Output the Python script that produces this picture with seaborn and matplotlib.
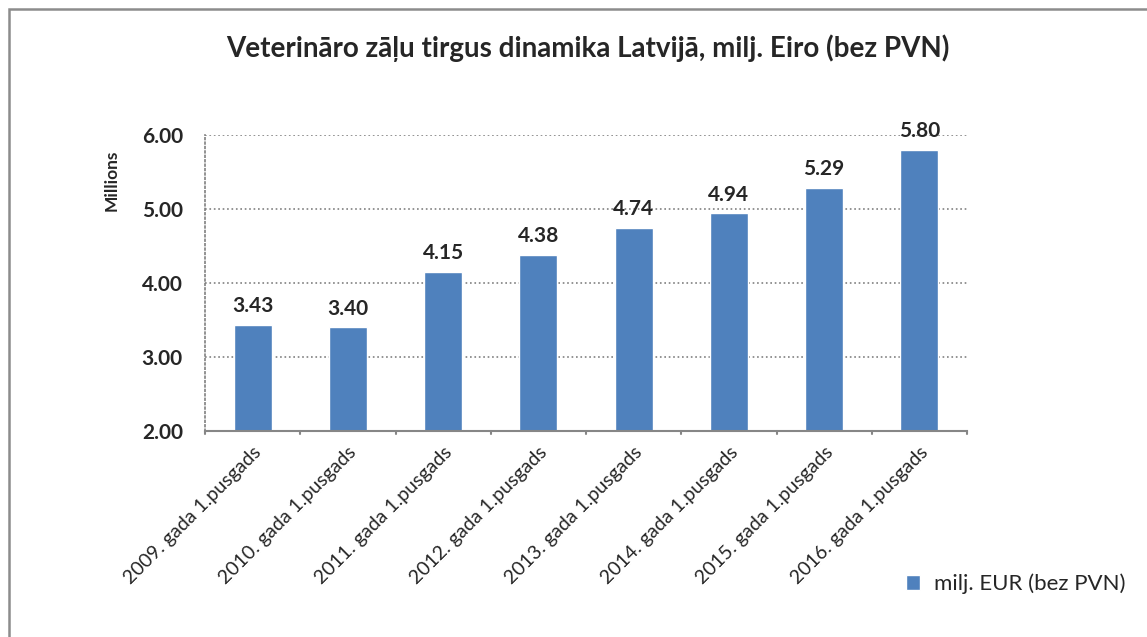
import pandas as pd
import matplotlib.pyplot as plt
import seaborn as sns
from matplotlib.patches import Rectangle

# Data
periods = ["2009. gada 1.pusgads", "2010. gada 1.pusgads", "2011. gada 1.pusgads",
           "2012. gada 1.pusgads", "2013. gada 1.pusgads", "2014. gada 1.pusgads",
           "2015. gada 1.pusgads", "2016. gada 1.pusgads"]
values = [3.43, 3.40, 4.15, 4.38, 4.74, 4.94, 5.29, 5.80]
y_ticks = [2.0, 3.0, 4.0, 5.0, 6.0]
series_name = "milj. EUR (bez PVN)"
title = "Veterināro zāļu tirgus dinamika Latvijā, milj. Eiro (bez PVN)"

sns.set_style("white")
plt.rcParams['font.family'] = ['Lato', 'DejaVu Sans']

df = pd.DataFrame({'period': periods, 'value': values})
bar_color = '#4F81BD'

fig = plt.figure(figsize=(11.47, 6.37), dpi=100)
ax = fig.add_axes([205 / 1147, 1 - 431 / 637, (967 - 205) / 1147, (431 - 135) / 637])

sns.barplot(data=df, x='period', y='value', color=bar_color, width=0.4,
            saturation=1, ax=ax, label=series_name)

ax.set_ylim(2, 6)
ax.set_xlim(-0.5, len(periods) - 0.5)
ax.set_yticks(y_ticks)
ax.set_yticklabels([f"{t:.2f}" for t in y_ticks], fontsize=15, fontweight='bold')
ax.tick_params(axis='y', length=0, pad=16)

# category boundary ticks on the x axis
ax.set_xticks(range(len(periods)))
ax.set_xticklabels(periods, rotation=45, ha='right', rotation_mode='anchor', fontsize=14)
ax.tick_params(axis='x', length=0, pad=9)
for b in [i - 0.5 for i in range(len(periods) + 1)]:
    ax.plot([b, b], [2, 1.96], color='#868686', lw=1.5, clip_on=False)

ax.grid(axis='y', linestyle=':', color='#808080', lw=1.2)
ax.set_axisbelow(True)
for s in ['top', 'right']:
    ax.spines[s].set_visible(False)
ax.spines['left'].set_linestyle(':')
ax.spines['left'].set_color('#808080')
ax.spines['left'].set_linewidth(1.2)
ax.spines['bottom'].set_color('#868686')
ax.spines['bottom'].set_linewidth(1.5)

ax.set_xlabel("")
ax.set_ylabel("Millions", fontsize=12.5, fontweight='bold')
ax.yaxis.set_label_coords(-0.112, 0.848)

for i, v in enumerate(values):
    ax.text(i, v + 0.12, f"{v:.2f}", ha='center', va='bottom', fontsize=15,
            fontweight='bold', clip_on=False)

fig.text(588 / 1147, 1 - 48 / 637, title, ha='center', va='center',
         fontsize=20, fontweight='bold')

leg = ax.legend(loc='center left', bbox_to_anchor=(886 / 1147, 1 - 584 / 637),
                bbox_transform=fig.transFigure, frameon=False, fontsize=16,
                handlelength=0.65, handleheight=0.65, handletextpad=0.6)

# outer chart border
fig.patches.append(Rectangle((9 / 1147, -0.05), 1.1, 1 - 9 / 637 + 0.05,
                             transform=fig.transFigure, fill=False,
                             edgecolor='#8c8c8c', lw=1.8))

fig.savefig('out.png', dpi=100)
